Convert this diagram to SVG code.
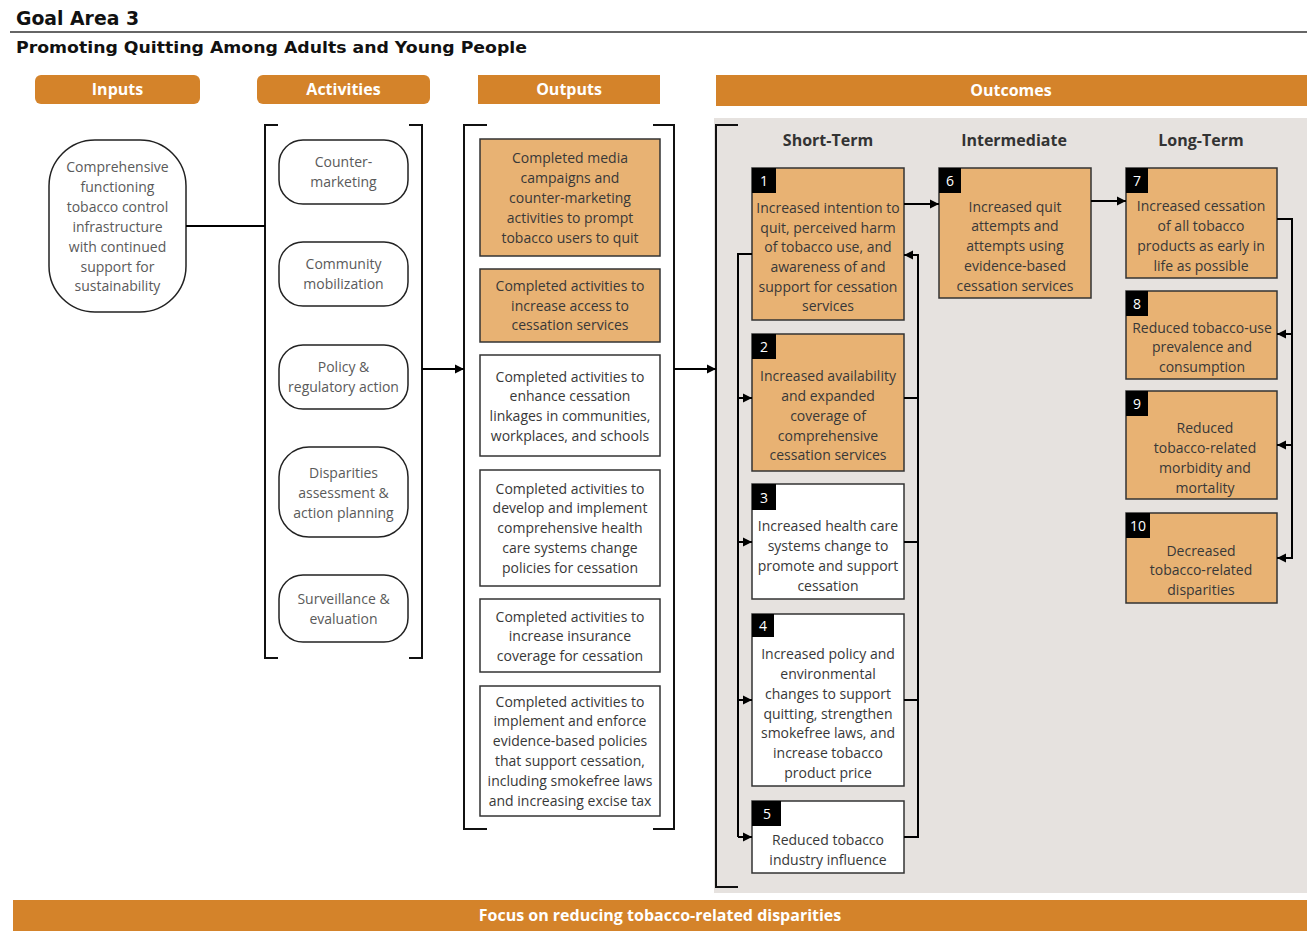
<svg xmlns="http://www.w3.org/2000/svg" width="1307" height="931" viewBox="0 0 1307 931">
<defs>
<style>
.t{font-family:"Open Sans","DejaVu Sans",sans-serif;font-size:14px;fill:#383838;text-anchor:middle}
.tg{font-family:"Open Sans","DejaVu Sans",sans-serif;font-size:14px;fill:#5a5a5a;text-anchor:middle}
.hd{font-family:"Open Sans","DejaVu Sans",sans-serif;font-size:16px;font-weight:bold;fill:#fff;text-anchor:middle}
.col{font-family:"Open Sans","DejaVu Sans",sans-serif;font-size:16px;font-weight:bold;fill:#333;text-anchor:middle}
.num{font-family:"Open Sans","DejaVu Sans",sans-serif;font-size:14px;fill:#fff;text-anchor:middle}
.ttl{font-family:"DejaVu Sans","Open Sans",sans-serif;font-weight:bold;fill:#111}
.or{fill:#E8B273;stroke:#333;stroke-width:1.5}
.wh{fill:#fff;stroke:#333;stroke-width:1.5}
.pill{fill:#fff;stroke:#222;stroke-width:1.5}
.bar{fill:#D4832A}
.badge{fill:#000}
.br{fill:none;stroke:#111;stroke-width:2}
.c{fill:none;stroke:#000;stroke-width:2}
</style>
<marker id="ah" markerWidth="10" markerHeight="10" refX="9" refY="5" orient="auto" markerUnits="userSpaceOnUse">
<path d="M0,0.5 L9,5 L0,9.5 Z" fill="#000"/>
</marker>
</defs>
<rect width="1307" height="931" fill="#fff"/>

<g id="title">
<text class="ttl" x="16" y="25" font-size="19" textLength="123" lengthAdjust="spacingAndGlyphs">Goal Area 3</text>
<line x1="10" y1="32" x2="1307" y2="32" stroke="#333" stroke-width="1.5"/>
<text class="ttl" x="16" y="53" font-size="16.5" textLength="511" lengthAdjust="spacingAndGlyphs">Promoting Quitting Among Adults and Young People</text>
</g>

<g id="headers">
<rect class="bar" x="35" y="75" width="165" height="29" rx="6"/>
<text class="hd" x="117.5" y="95">Inputs</text>
<rect class="bar" x="257" y="75" width="173" height="29" rx="6"/>
<text class="hd" x="343.5" y="95">Activities</text>
<rect class="bar" x="478" y="75" width="182" height="29"/>
<text class="hd" x="569" y="95">Outputs</text>
<rect class="bar" x="716" y="75" width="591" height="31"/>
<text class="hd" x="1011" y="96">Outcomes</text>
</g>

<rect id="outcome-panel" x="714" y="118" width="593" height="775" fill="#E6E2DF"/>

<g id="brackets">
<path class="br" d="M278,125 H265 V658 H278"/>
<path class="br" d="M409,125 H422 V658 H409"/>
<path class="br" d="M487,125 H464 V829 H487"/>
<path class="br" d="M653,125 H674 V829 H653"/>
<path class="br" d="M738,125 H716 V887 H738"/>
</g>

<g id="col-headings">
<text class="col" x="828" y="146">Short-Term</text>
<text class="col" x="1014" y="146">Intermediate</text>
<text class="col" x="1201" y="146">Long-Term</text>
</g>

<g id="input">
<rect class="pill" x="49" y="140" width="137" height="172" rx="46"/>
<text class="tg" x="117.5" y="172">Comprehensive</text>
<text class="tg" x="117.5" y="192">functioning</text>
<text class="tg" x="117.5" y="212">tobacco control</text>
<text class="tg" x="117.5" y="232">infrastructure</text>
<text class="tg" x="117.5" y="252">with continued</text>
<text class="tg" x="117.5" y="272">support for</text>
<text class="tg" x="117.5" y="291">sustainability</text>
</g>

<g id="act-1">
<rect class="pill" x="279" y="140" width="129" height="64" rx="24"/>
<text class="tg" x="343.5" y="167">Counter-</text>
<text class="tg" x="343.5" y="187">marketing</text>
</g>
<g id="act-2">
<rect class="pill" x="279" y="242" width="129" height="64" rx="24"/>
<text class="tg" x="343.5" y="269">Community</text>
<text class="tg" x="343.5" y="289">mobilization</text>
</g>
<g id="act-3">
<rect class="pill" x="279" y="345" width="129" height="64" rx="24"/>
<text class="tg" x="343.5" y="372">Policy &amp;</text>
<text class="tg" x="343.5" y="392">regulatory action</text>
</g>
<g id="act-4">
<rect class="pill" x="279" y="447" width="129" height="90" rx="30"/>
<text class="tg" x="343.5" y="478">Disparities</text>
<text class="tg" x="343.5" y="498">assessment &amp;</text>
<text class="tg" x="343.5" y="518">action planning</text>
</g>
<g id="act-5">
<rect class="pill" x="279" y="575" width="129" height="67" rx="24"/>
<text class="tg" x="343.5" y="604">Surveillance &amp;</text>
<text class="tg" x="343.5" y="624">evaluation</text>
</g>

<g id="out-1">
<rect class="or" x="480" y="139" width="180" height="117"/>
<text class="t" x="570" y="163">Completed media</text>
<text class="t" x="570" y="183">campaigns and</text>
<text class="t" x="570" y="203">counter-marketing</text>
<text class="t" x="570" y="223">activities to prompt</text>
<text class="t" x="570" y="243">tobacco users to quit</text>
</g>
<g id="out-2">
<rect class="or" x="480" y="269" width="180" height="73"/>
<text class="t" x="570" y="291">Completed activities to</text>
<text class="t" x="570" y="311">increase access to</text>
<text class="t" x="570" y="330">cessation services</text>
</g>
<g id="out-3">
<rect class="wh" x="480" y="355" width="180" height="101"/>
<text class="t" x="570" y="382">Completed activities to</text>
<text class="t" x="570" y="401">enhance cessation</text>
<text class="t" x="570" y="421">linkages in communities,</text>
<text class="t" x="570" y="441">workplaces, and schools</text>
</g>
<g id="out-4">
<rect class="wh" x="480" y="470" width="180" height="116"/>
<text class="t" x="570" y="494">Completed activities to</text>
<text class="t" x="570" y="513">develop and implement</text>
<text class="t" x="570" y="533">comprehensive health</text>
<text class="t" x="570" y="553">care systems change</text>
<text class="t" x="570" y="573">policies for cessation</text>
</g>
<g id="out-5">
<rect class="wh" x="480" y="599" width="180" height="73"/>
<text class="t" x="570" y="622">Completed activities to</text>
<text class="t" x="570" y="641">increase insurance</text>
<text class="t" x="570" y="661">coverage for cessation</text>
</g>
<g id="out-6">
<rect class="wh" x="480" y="686" width="180" height="130"/>
<text class="t" x="570" y="707">Completed activities to</text>
<text class="t" x="570" y="726">implement and enforce</text>
<text class="t" x="570" y="746">evidence-based policies</text>
<text class="t" x="570" y="766">that support cessation,</text>
<text class="t" x="570" y="786">including smokefree laws</text>
<text class="t" x="570" y="806">and increasing excise tax</text>
</g>

<g id="oc-1">
<rect class="or" x="752" y="168" width="152" height="152"/>
<rect class="badge" x="752" y="168" width="24" height="25"/>
<text class="num" x="764" y="186">1</text>
<text class="t" x="828" y="213">Increased intention to</text>
<text class="t" x="828" y="233">quit, perceived harm</text>
<text class="t" x="828" y="252">of tobacco use, and</text>
<text class="t" x="828" y="272">awareness of and</text>
<text class="t" x="828" y="292">support for cessation</text>
<text class="t" x="828" y="311">services</text>
</g>
<g id="oc-2">
<rect class="or" x="752" y="334" width="152" height="137"/>
<rect class="badge" x="752" y="334" width="24" height="25"/>
<text class="num" x="764" y="352">2</text>
<text class="t" x="828" y="381">Increased availability</text>
<text class="t" x="828" y="401">and expanded</text>
<text class="t" x="828" y="421">coverage of</text>
<text class="t" x="828" y="441">comprehensive</text>
<text class="t" x="828" y="460">cessation services</text>
</g>
<g id="oc-3">
<rect class="wh" x="752" y="484" width="152" height="115"/>
<rect class="badge" x="752" y="484" width="24" height="26"/>
<text class="num" x="764" y="503">3</text>
<text class="t" x="828" y="531">Increased health care</text>
<text class="t" x="828" y="551">systems change to</text>
<text class="t" x="828" y="571">promote and support</text>
<text class="t" x="828" y="591">cessation</text>
</g>
<g id="oc-4">
<rect class="wh" x="752" y="614" width="152" height="172"/>
<rect class="badge" x="752" y="614" width="22" height="23"/>
<text class="num" x="763" y="631">4</text>
<text class="t" x="828" y="659">Increased policy and</text>
<text class="t" x="828" y="679">environmental</text>
<text class="t" x="828" y="699">changes to support</text>
<text class="t" x="828" y="719">quitting, strengthen</text>
<text class="t" x="828" y="738">smokefree laws, and</text>
<text class="t" x="828" y="758">increase tobacco</text>
<text class="t" x="828" y="778">product price</text>
</g>
<g id="oc-5">
<rect class="wh" x="752" y="801" width="152" height="72"/>
<rect class="badge" x="752" y="801" width="29" height="25"/>
<text class="num" x="767" y="819">5</text>
<text class="t" x="828" y="845">Reduced tobacco</text>
<text class="t" x="828" y="865">industry influence</text>
</g>
<g id="oc-6">
<rect class="or" x="939" y="168" width="152" height="130"/>
<rect class="badge" x="939" y="168" width="22" height="25"/>
<text class="num" x="950" y="186">6</text>
<text class="t" x="1015" y="212">Increased quit</text>
<text class="t" x="1015" y="231">attempts and</text>
<text class="t" x="1015" y="251">attempts using</text>
<text class="t" x="1015" y="271">evidence-based</text>
<text class="t" x="1015" y="291">cessation services</text>
</g>
<g id="oc-7">
<rect class="or" x="1126" y="168" width="151" height="110"/>
<rect class="badge" x="1126" y="168" width="22" height="25"/>
<text class="num" x="1137" y="186">7</text>
<text class="t" x="1201" y="211">Increased cessation</text>
<text class="t" x="1201" y="231">of all tobacco</text>
<text class="t" x="1201" y="251">products as early in</text>
<text class="t" x="1201" y="271">life as possible</text>
</g>
<g id="oc-8">
<rect class="or" x="1126" y="291" width="151" height="88"/>
<rect class="badge" x="1126" y="291" width="22" height="25"/>
<text class="num" x="1137" y="309">8</text>
<text class="t" x="1202" y="333">Reduced tobacco-use</text>
<text class="t" x="1202" y="352">prevalence and</text>
<text class="t" x="1202" y="372">consumption</text>
</g>
<g id="oc-9">
<rect class="or" x="1126" y="391" width="151" height="108"/>
<rect class="badge" x="1126" y="391" width="22" height="25"/>
<text class="num" x="1137" y="409">9</text>
<text class="t" x="1205" y="433">Reduced</text>
<text class="t" x="1205" y="453">tobacco-related</text>
<text class="t" x="1205" y="473">morbidity and</text>
<text class="t" x="1205" y="493">mortality</text>
</g>
<g id="oc-10">
<rect class="or" x="1126" y="513" width="151" height="90"/>
<rect class="badge" x="1126" y="513" width="24" height="25"/>
<text class="num" x="1138" y="531">10</text>
<text class="t" x="1201" y="556">Decreased</text>
<text class="t" x="1201" y="575">tobacco-related</text>
<text class="t" x="1201" y="595">disparities</text>
</g>

<g id="connectors">
<path class="c" d="M186,226 H265"/>
<path class="c" d="M422,369 H464" marker-end="url(#ah)"/>
<path class="c" d="M674,369 H716" marker-end="url(#ah)"/>
<path class="c" d="M752,254 H738 V837"/>
<path class="c" d="M738,398 H752" marker-end="url(#ah)"/>
<path class="c" d="M738,542 H752" marker-end="url(#ah)"/>
<path class="c" d="M738,700 H752" marker-end="url(#ah)"/>
<path class="c" d="M738,837 H752" marker-end="url(#ah)"/>
<path class="c" d="M904,398 H918"/>
<path class="c" d="M904,542 H918"/>
<path class="c" d="M904,700 H918"/>
<path class="c" d="M904,837 H918 V255 H904" marker-end="url(#ah)"/>
<path class="c" d="M904,204 H939" marker-end="url(#ah)"/>
<path class="c" d="M1091,201 H1126" marker-end="url(#ah)"/>
<path class="c" d="M1277,219 H1292 V558 H1277" marker-end="url(#ah)"/>
<path class="c" d="M1292,334 H1277" marker-end="url(#ah)"/>
<path class="c" d="M1292,445 H1277" marker-end="url(#ah)"/>
</g>

<g id="footer">
<rect class="bar" x="13" y="900" width="1294" height="31"/>
<text class="hd" x="660" y="921">Focus on reducing tobacco-related disparities</text>
</g>
</svg>
